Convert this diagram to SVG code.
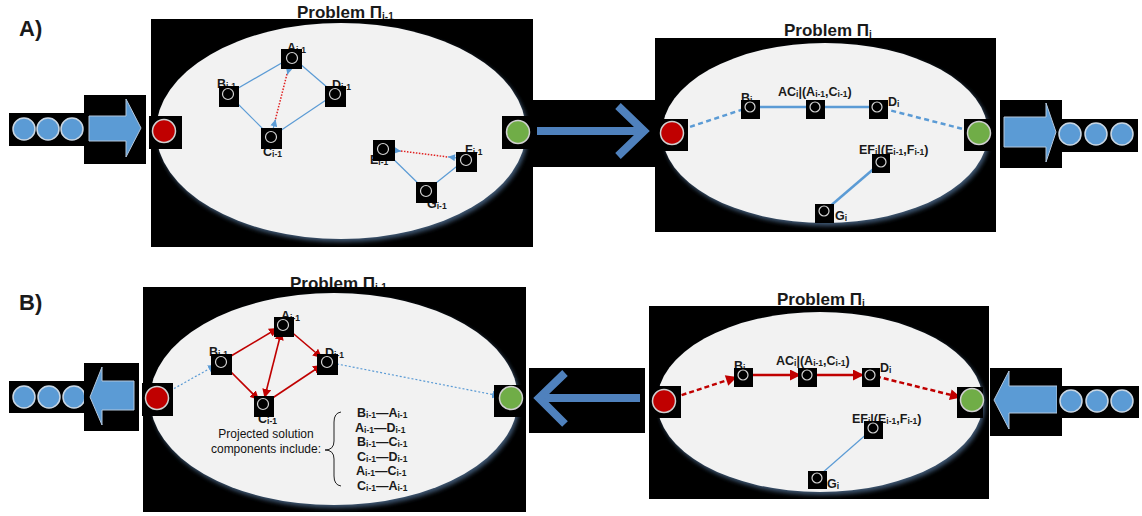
<svg xmlns="http://www.w3.org/2000/svg" width="1142" height="516" viewBox="0 0 1142 516">
  <style>
    .bk{fill:#000}
    .el{fill:#f2f2f2}
    .sh{fill:#3c5470;filter:url(#soft)}
    .nd{fill:#000}
    .ring{fill:#000;stroke:#d4d4d4;stroke-width:1.2}
    .lb{font-family:"Liberation Sans",Arial,sans-serif;font-weight:bold;font-size:12.5px;fill:#1a1a1a}
    .s{font-size:8.5px}
    .ttl{font-size:17px}
    .ttl .s{font-size:10px}
    .tag{font-size:22px}
    .txt{font-family:"Liberation Sans",Arial,sans-serif;font-size:12px;fill:#111}
    .tok{fill:#5b9bd5;stroke:#c9d6e3;stroke-width:1.5}
    .red{fill:#c00000;stroke:#d0d0d0;stroke-width:1.5}
    .grn{fill:#70ad47;stroke:#d0d0d0;stroke-width:1.5}
    .fat{fill:#5b9bd5;stroke:#b4c7dc;stroke-width:1}
    .chev{fill:none;stroke:#4f81bd;stroke-width:8}
    .b1{fill:none;stroke:#5b9bd5;stroke-width:1.2}
    .b2{fill:none;stroke:#5b9bd5;stroke-width:2.5}
    .b2d{fill:none;stroke:#5b9bd5;stroke-width:2.5;stroke-dasharray:5 3.5}
    .bdot{fill:none;stroke:#5b9bd5;stroke-width:1.2;stroke-dasharray:2 2}
    .rdot{fill:none;stroke:#e02020;stroke-width:1.5;stroke-dasharray:1.5 1.5}
    .r1{fill:none;stroke:#c00000;stroke-width:1.6}
    .r2{fill:none;stroke:#c00000;stroke-width:2.5}
    .r2d{fill:none;stroke:#c00000;stroke-width:2.5;stroke-dasharray:5 3}
    .brace{fill:none;stroke:#222;stroke-width:1}
  </style>
  <defs>
    <filter id="soft" x="-5%" y="-5%" width="110%" height="110%">
      <feGaussianBlur stdDeviation="2"/>
    </filter>
    <marker id="mb" viewBox="0 0 10 10" refX="10" refY="5" markerWidth="8" markerHeight="8" markerUnits="userSpaceOnUse" orient="auto">
      <path d="M0,0 L10,5 L0,10 z" fill="#5b9bd5"/>
    </marker>
    <marker id="mbs" viewBox="0 0 10 10" refX="10" refY="5" markerWidth="8" markerHeight="7" markerUnits="userSpaceOnUse" orient="auto">
      <path d="M0,0 L10,5 L0,10 z" fill="#5b9bd5"/>
    </marker>
    <marker id="mr" viewBox="0 0 10 10" refX="10" refY="5" markerWidth="9" markerHeight="9" markerUnits="userSpaceOnUse" orient="auto-start-reverse">
      <path d="M0,0 L10,5 L0,10 z" fill="#c00000"/>
    </marker>
    <marker id="mr2" viewBox="0 0 10 10" refX="10" refY="5" markerWidth="12" markerHeight="11" markerUnits="userSpaceOnUse" orient="auto">
      <path d="M0,0 L10,5 L0,10 z" fill="#c00000"/>
    </marker>
  </defs>
  <rect width="1142" height="516" fill="#fff"/>

  <!-- ============ A) ============ -->
  <text class="lb tag" x="19" y="36">A)</text>

  <g id="a-input">
    <rect class="bk" x="9" y="113" width="79" height="33"/>
    <circle class="tok" cx="24" cy="129" r="11"/>
    <circle class="tok" cx="48" cy="129" r="11"/>
    <circle class="tok" cx="72" cy="129" r="11"/>
    <rect class="bk" x="84" y="95" width="62" height="69"/>
    <polygon class="fat" points="89,116 126,116 126,99 141,128 126,157 126,141 89,141"/>
  </g>

  <g id="a-prev">
    <text class="lb ttl" x="297" y="18">Problem Π<tspan class="s" dy="2">i-1</tspan></text>
    <rect class="bk" x="151" y="19" width="382" height="228"/>
    <ellipse class="sh" cx="343" cy="134" rx="185" ry="108"/>
    <ellipse class="el" cx="341" cy="131" rx="185" ry="108"/>
  </g>

  <g id="a-prev-edges">
    <line class="b1" x1="228" y1="94" x2="292" y2="57"/>
    <line class="b1" x1="292" y1="57" x2="335" y2="94"/>
    <line class="b1" x1="228" y1="94" x2="271" y2="137"/>
    <line class="b1" x1="271" y1="137" x2="335" y2="94"/>
    <line class="rdot" x1="287" y1="74" x2="275" y2="121"/>
    <line class="b1" x1="290.5" y1="62.8" x2="287.4" y2="74.5" marker-end="url(#mbs)"/>
    <line class="b1" x1="272.5" y1="131.2" x2="275.6" y2="119.5" marker-end="url(#mbs)"/>
    <line class="b1" x1="383" y1="149" x2="426" y2="191"/>
    <line class="b1" x1="426" y1="191" x2="466" y2="159"/>
    <line class="rdot" x1="401" y1="151" x2="448" y2="157"/>
    <line class="b1" x1="389" y1="149.7" x2="401" y2="151.2" marker-end="url(#mbs)"/>
    <line class="b1" x1="460" y1="158.3" x2="448" y2="156.8" marker-end="url(#mbs)"/>
  </g>

  <g id="a-prev-A">
    <text class="lb" x="287" y="52">A<tspan class="s" dy="1">i-1</tspan></text>
    <rect class="nd" x="281" y="49" width="21" height="20"/>
    <circle class="ring" cx="292" cy="58" r="5.5"/>
  </g>
  <g id="a-prev-B">
    <text class="lb" x="217" y="88">B<tspan class="s" dy="1">i-1</tspan></text>
    <rect class="nd" x="219" y="86" width="20" height="21"/>
    <circle class="ring" cx="228" cy="94" r="5.5"/>
  </g>
  <g id="a-prev-D">
    <text class="lb" x="332" y="89">D<tspan class="s" dy="1">i-1</tspan></text>
    <rect class="nd" x="325" y="86" width="21" height="21"/>
    <circle class="ring" cx="335" cy="94" r="5.5"/>
  </g>
  <g id="a-prev-C">
    <text class="lb" x="263" y="156">C<tspan class="s" dy="1">i-1</tspan></text>
    <rect class="nd" x="261" y="128" width="21" height="21"/>
    <circle class="ring" cx="271" cy="137" r="5.5"/>
  </g>
  <g id="a-prev-E">
    <text class="lb" x="370" y="164">E<tspan class="s" dy="1">i-1</tspan></text>
    <rect class="nd" x="373" y="140" width="22" height="21"/>
    <circle class="ring" cx="383" cy="149" r="5.5"/>
  </g>
  <g id="a-prev-F">
    <text class="lb" x="465" y="154">F<tspan class="s" dy="1">i-1</tspan></text>
    <rect class="nd" x="456" y="152" width="21" height="20"/>
    <circle class="ring" cx="466" cy="160" r="5.5"/>
  </g>
  <g id="a-prev-G">
    <text class="lb" x="427" y="208">G<tspan class="s" dy="1">i-1</tspan></text>
    <rect class="nd" x="416" y="182" width="21" height="21"/>
    <circle class="ring" cx="426" cy="191" r="5.5"/>
  </g>
  <g id="a-prev-start">
    <rect class="bk" x="149" y="116" width="33" height="33"/>
    <circle class="red" cx="164" cy="131" r="11.5"/>
  </g>
  <g id="a-prev-goal">
    <rect class="bk" x="502" y="116" width="31" height="33"/>
    <circle class="grn" cx="518" cy="132" r="11.5"/>
  </g>

  <g id="a-mid-arrow">
    <rect class="bk" x="533" y="100" width="122" height="67"/>
    <line class="chev" x1="537" y1="131" x2="640" y2="131"/>
    <polyline class="chev" points="618,106 644,131 618,156"/>
  </g>

  <g id="a-cur">
    <text class="lb ttl" x="784" y="36">Problem Π<tspan class="s" dy="2">i</tspan></text>
    <rect class="bk" x="655" y="38" width="341" height="194"/>
    <ellipse class="sh" cx="827" cy="136" rx="163" ry="90"/>
    <ellipse class="el" cx="825" cy="133" rx="163" ry="90"/>
  </g>

  <g id="a-cur-edges">
    <line class="b2d" x1="682" y1="129.5" x2="744" y2="109"/>
    <line class="b2" x1="756" y1="107" x2="809" y2="107"/>
    <line class="b2" x1="821" y1="107" x2="871" y2="107"/>
    <line class="b2d" x1="883" y1="108.5" x2="968" y2="130.3"/>
    <line class="b2" x1="877" y1="166" x2="828" y2="208"/>
  </g>

  <g id="a-cur-B">
    <text class="lb" x="741" y="102">B<tspan class="s" dy="1">i</tspan></text>
    <rect class="nd" x="741" y="100" width="19" height="19"/>
    <circle class="ring" cx="750" cy="107" r="5"/>
  </g>
  <g id="a-cur-AC">
    <text class="lb" x="778" y="96">AC<tspan class="s" dy="1">i</tspan><tspan dy="-1">|(A</tspan><tspan class="s" dy="1">i-1</tspan><tspan dy="-1">,C</tspan><tspan class="s" dy="1">i-1</tspan><tspan dy="-1">)</tspan></text>
    <rect class="nd" x="806" y="100" width="19" height="19"/>
    <circle class="ring" cx="815" cy="107" r="5"/>
  </g>
  <g id="a-cur-D">
    <text class="lb" x="888" y="106">D<tspan class="s" dy="1">i</tspan></text>
    <rect class="nd" x="869" y="100" width="19" height="19"/>
    <circle class="ring" cx="877" cy="107" r="5"/>
  </g>
  <g id="a-cur-EF">
    <text class="lb" x="859" y="154">EF<tspan class="s" dy="1">i</tspan><tspan dy="-1">|(E</tspan><tspan class="s" dy="1">i-1</tspan><tspan dy="-1">,F</tspan><tspan class="s" dy="1">i-1</tspan><tspan dy="-1">)</tspan></text>
    <rect class="nd" x="872" y="154" width="18" height="19"/>
    <circle class="ring" cx="881" cy="162" r="5"/>
  </g>
  <g id="a-cur-G">
    <text class="lb" x="835" y="220">G<tspan class="s" dy="1">i</tspan></text>
    <rect class="nd" x="815" y="204" width="19" height="19"/>
    <circle class="ring" cx="824" cy="211" r="5"/>
  </g>
  <g id="a-cur-start">
    <rect class="bk" x="659" y="119" width="29" height="32"/>
    <circle class="red" cx="672" cy="133" r="11.5"/>
  </g>
  <g id="a-cur-goal">
    <rect class="bk" x="964" y="119" width="31" height="32"/>
    <circle class="grn" cx="979" cy="133" r="11.5"/>
  </g>

  <g id="a-output">
    <rect class="bk" x="1000" y="100" width="62" height="68"/>
    <polygon class="fat" points="1004,117 1046,117 1046,103 1056,132 1046,162 1046,147 1004,147"/>
    <rect class="bk" x="1058" y="119" width="80" height="33"/>
    <circle class="tok" cx="1070" cy="134" r="11"/>
    <circle class="tok" cx="1096" cy="134" r="11"/>
    <circle class="tok" cx="1122" cy="134" r="11"/>
  </g>

  <!-- ============ B) ============ -->
  <text class="lb tag" x="19" y="310">B)</text>

  <g id="b-output">
    <rect class="bk" x="9" y="381" width="79" height="32"/>
    <circle class="tok" cx="24" cy="397" r="11"/>
    <circle class="tok" cx="49" cy="397" r="11"/>
    <circle class="tok" cx="74" cy="397" r="11"/>
    <rect class="bk" x="84" y="363" width="55" height="68"/>
    <polygon class="fat" points="134,381 102,381 102,367 90,397 102,425 102,410 134,410"/>
  </g>

  <g id="b-prev">
    <text class="lb ttl" x="290" y="289">Problem Π<tspan class="s" dy="2">i-1</tspan></text>
    <rect class="bk" x="143" y="287" width="383" height="225"/>
    <ellipse class="sh" cx="336" cy="402" rx="184" ry="106"/>
    <ellipse class="el" cx="334" cy="399" rx="184" ry="106"/>
  </g>

  <g id="b-prev-edges">
    <line class="r1" x1="226" y1="359" x2="278" y2="328" marker-end="url(#mr)"/>
    <line class="r1" x1="288" y1="329" x2="322" y2="358" marker-end="url(#mr)"/>
    <line class="r1" x1="225" y1="366" x2="259" y2="400" marker-end="url(#mr)"/>
    <line class="r1" x1="268" y1="401" x2="322" y2="365" marker-end="url(#mr)"/>
    <line class="r1" x1="281.5" y1="331" x2="264.5" y2="398" marker-start="url(#mr)" marker-end="url(#mr)"/>
    <line class="bdot" x1="167" y1="392.5" x2="216" y2="365" marker-end="url(#mb)"/>
    <line class="bdot" x1="333" y1="363.2" x2="500" y2="396" marker-end="url(#mb)"/>
  </g>

  <g id="b-prev-A">
    <text class="lb" x="281" y="320">A<tspan class="s" dy="1">i-1</tspan></text>
    <rect class="nd" x="274" y="317" width="20" height="20"/>
    <circle class="ring" cx="283" cy="325" r="5.5"/>
  </g>
  <g id="b-prev-B">
    <text class="lb" x="209" y="356">B<tspan class="s" dy="1">i-1</tspan></text>
    <rect class="nd" x="211" y="354" width="21" height="21"/>
    <circle class="ring" cx="221" cy="362" r="5.5"/>
  </g>
  <g id="b-prev-D">
    <text class="lb" x="325" y="357">D<tspan class="s" dy="1">i-1</tspan></text>
    <rect class="nd" x="317" y="354" width="21" height="21"/>
    <circle class="ring" cx="327" cy="362" r="5.5"/>
  </g>
  <g id="b-prev-C">
    <text class="lb" x="258" y="423">C<tspan class="s" dy="1">i-1</tspan></text>
    <rect class="nd" x="254" y="396" width="20" height="21"/>
    <circle class="ring" cx="263" cy="404" r="5.5"/>
  </g>

  <g id="b-prev-note">
    <text class="txt" x="266" y="438" text-anchor="middle">Projected solution</text>
    <text class="txt" x="266" y="453" text-anchor="middle">components include:</text>
    <path class="brace" d="M341,412 Q334,413 334,422 L334,441 Q334,450 325,450 Q334,450 334,459 L334,476 Q334,485 341,486"/>
    <text class="lb" x="357" y="417">B<tspan class="s" dy="1">i-1</tspan><tspan dy="-1">—A</tspan><tspan class="s" dy="1">i-1</tspan></text>
    <text class="lb" x="355" y="431.5">A<tspan class="s" dy="1">i-1</tspan><tspan dy="-1">—D</tspan><tspan class="s" dy="1">i-1</tspan></text>
    <text class="lb" x="357" y="446">B<tspan class="s" dy="1">i-1</tspan><tspan dy="-1">—C</tspan><tspan class="s" dy="1">i-1</tspan></text>
    <text class="lb" x="357" y="460.5">C<tspan class="s" dy="1">i-1</tspan><tspan dy="-1">—D</tspan><tspan class="s" dy="1">i-1</tspan></text>
    <text class="lb" x="356" y="475">A<tspan class="s" dy="1">i-1</tspan><tspan dy="-1">—C</tspan><tspan class="s" dy="1">i-1</tspan></text>
    <text class="lb" x="357" y="489.5">C<tspan class="s" dy="1">i-1</tspan><tspan dy="-1">—A</tspan><tspan class="s" dy="1">i-1</tspan></text>
  </g>

  <g id="b-prev-start">
    <rect class="bk" x="142" y="383" width="31" height="33"/>
    <circle class="red" cx="157" cy="398" r="11.5"/>
  </g>
  <g id="b-prev-goal">
    <rect class="bk" x="494" y="385" width="32" height="32"/>
    <circle class="grn" cx="511" cy="398" r="11.5"/>
  </g>

  <g id="b-mid-arrow">
    <rect class="bk" x="529" y="368" width="116" height="65"/>
    <line class="chev" x1="640" y1="398" x2="543" y2="398"/>
    <polyline class="chev" points="565,373 539,398 565,424"/>
  </g>

  <g id="b-cur">
    <text class="lb ttl" x="777" y="305">Problem Π<tspan class="s" dy="2">i</tspan></text>
    <rect class="bk" x="649" y="306" width="340" height="193"/>
    <ellipse class="sh" cx="822" cy="405" rx="163" ry="90"/>
    <ellipse class="el" cx="820" cy="402" rx="163" ry="90"/>
  </g>

  <g id="b-cur-edges">
    <line class="r2d" x1="674" y1="397.6" x2="737" y2="377" marker-end="url(#mr2)"/>
    <line class="r2" x1="749" y1="375" x2="801" y2="375" marker-end="url(#mr2)"/>
    <line class="r2" x1="813" y1="375" x2="864" y2="375" marker-end="url(#mr2)"/>
    <line class="r2d" x1="876" y1="376.4" x2="961" y2="397.4" marker-end="url(#mr2)"/>
    <line class="b1" x1="869" y1="432" x2="821" y2="474"/>
  </g>

  <g id="b-cur-B">
    <text class="lb" x="734" y="370">B<tspan class="s" dy="1">i</tspan></text>
    <rect class="nd" x="734" y="368" width="19" height="19"/>
    <circle class="ring" cx="743" cy="375" r="5"/>
  </g>
  <g id="b-cur-AC">
    <text class="lb" x="776" y="365">AC<tspan class="s" dy="1">i</tspan><tspan dy="-1">|(A</tspan><tspan class="s" dy="1">i-1</tspan><tspan dy="-1">,C</tspan><tspan class="s" dy="1">i-1</tspan><tspan dy="-1">)</tspan></text>
    <rect class="nd" x="798" y="368" width="19" height="19"/>
    <circle class="ring" cx="807" cy="375" r="5"/>
  </g>
  <g id="b-cur-D">
    <text class="lb" x="880" y="372">D<tspan class="s" dy="1">i</tspan></text>
    <rect class="nd" x="862" y="368" width="18" height="19"/>
    <circle class="ring" cx="870" cy="375" r="5"/>
  </g>
  <g id="b-cur-EF">
    <text class="lb" x="852" y="423">EF<tspan class="s" dy="1">i</tspan><tspan dy="-1">|(E</tspan><tspan class="s" dy="1">i-1</tspan><tspan dy="-1">,F</tspan><tspan class="s" dy="1">i-1</tspan><tspan dy="-1">)</tspan></text>
    <rect class="nd" x="864" y="421" width="19" height="18"/>
    <circle class="ring" cx="873" cy="428" r="5"/>
  </g>
  <g id="b-cur-G">
    <text class="lb" x="827" y="488">G<tspan class="s" dy="1">i</tspan></text>
    <rect class="nd" x="808" y="471" width="19" height="18"/>
    <circle class="ring" cx="817" cy="478" r="5"/>
  </g>
  <g id="b-cur-start">
    <rect class="bk" x="653" y="386" width="28" height="32"/>
    <circle class="red" cx="664" cy="401" r="11.5"/>
  </g>
  <g id="b-cur-goal">
    <rect class="bk" x="957" y="387" width="26" height="31"/>
    <circle class="grn" cx="972" cy="400" r="11.5"/>
  </g>

  <g id="b-input">
    <rect class="bk" x="990" y="368" width="72" height="68"/>
    <polygon class="fat" points="1057,386 1009,386 1009,371 994,400 1009,429 1009,413 1057,413"/>
    <rect class="bk" x="1057" y="386" width="82" height="32"/>
    <circle class="tok" cx="1071" cy="401" r="11"/>
    <circle class="tok" cx="1097" cy="401" r="11"/>
    <circle class="tok" cx="1122" cy="401" r="11"/>
  </g>
</svg>
